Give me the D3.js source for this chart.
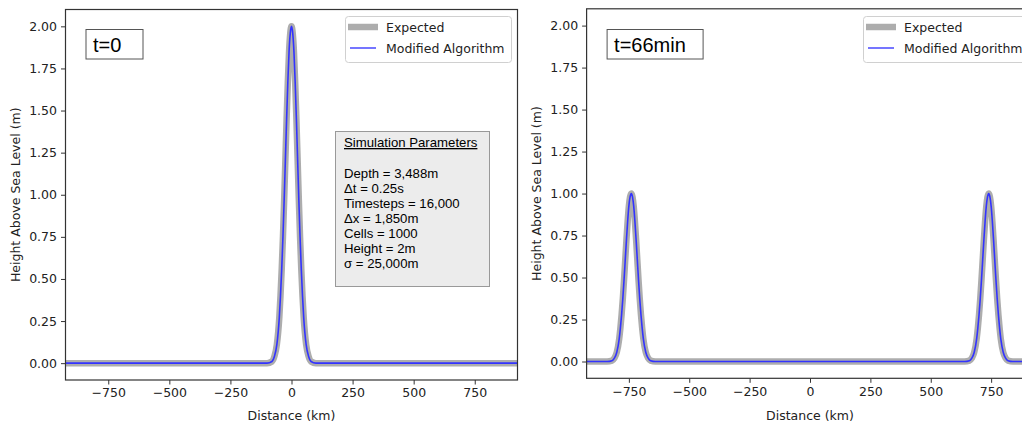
<!DOCTYPE html>
<html><head><meta charset="utf-8">
<script src="https://cdn.jsdelivr.net/npm/d3@7"></script>
<style>body{margin:0;background:#fff}svg{display:block}</style>
</head><body>
<svg id="c" width="1022" height="424"></svg>
<script>
// ---- data ----
const xTicks = [-750, -500, -250, 0, 250, 500, 750];
const yTicks = [0, 0.25, 0.5, 0.75, 1.0, 1.25, 1.5, 1.75, 2.0];
const xDomain = [-925, 925];
const yDomain = [-0.1, 2.1];

// t = 0 : single hump centred at 0 km
const distT0 = [-925, -100, -80, -70, -60, -50, -45, -40, -35, -30, -25, -20, -15, -10, -5, 0, 5, 10, 15, 20, 25, 30, 35, 40, 45, 50, 60, 70, 80, 100, 925];
const expectedT0 = [0, 0, 0.01, 0.04, 0.11, 0.27, 0.40, 0.56, 0.75, 0.97, 1.21, 1.45, 1.67, 1.85, 1.96, 2.0, 1.96, 1.85, 1.67, 1.45, 1.21, 0.97, 0.75, 0.56, 0.40, 0.27, 0.11, 0.04, 0.01, 0, 0];
const modifiedT0 = [0, 0, 0.01, 0.04, 0.11, 0.27, 0.40, 0.56, 0.75, 0.97, 1.21, 1.45, 1.67, 1.85, 1.96, 2.0, 1.96, 1.85, 1.67, 1.45, 1.21, 0.97, 0.75, 0.56, 0.40, 0.27, 0.11, 0.04, 0.01, 0, 0];

// t = 66 min : two humps travelling outwards
const distT66 = [-925, -840, -820, -810, -800, -790, -785, -780, -775, -770, -765, -760, -755, -750, -745, -740, -735, -730, -725, -720, -715, -710, -705, -700, -695, -690, -680, -670, -660, -640,
                 640, 660, 670, 680, 690, 695, 700, 705, 710, 715, 720, 725, 730, 735, 740, 745, 750, 755, 760, 765, 770, 775, 780, 785, 790, 800, 810, 820, 840, 925];
const expectedT66 = [0, 0, 0.005, 0.02, 0.055, 0.135, 0.20, 0.28, 0.375, 0.485, 0.605, 0.725, 0.835, 0.925, 0.98, 1.0, 0.98, 0.925, 0.835, 0.725, 0.605, 0.485, 0.375, 0.28, 0.20, 0.135, 0.055, 0.02, 0.005, 0,
                     0, 0.005, 0.02, 0.055, 0.135, 0.20, 0.28, 0.375, 0.485, 0.605, 0.725, 0.835, 0.925, 0.98, 1.0, 0.98, 0.925, 0.835, 0.725, 0.605, 0.485, 0.375, 0.28, 0.20, 0.135, 0.055, 0.02, 0.005, 0, 0];
const modifiedT66 = [0, 0, 0.005, 0.02, 0.055, 0.135, 0.20, 0.28, 0.375, 0.485, 0.605, 0.725, 0.835, 0.925, 0.98, 1.0, 0.98, 0.925, 0.835, 0.725, 0.605, 0.485, 0.375, 0.28, 0.20, 0.135, 0.055, 0.02, 0.005, 0,
                     0, 0.005, 0.02, 0.055, 0.135, 0.20, 0.28, 0.375, 0.485, 0.605, 0.725, 0.835, 0.925, 0.98, 1.0, 0.98, 0.925, 0.835, 0.725, 0.605, 0.485, 0.375, 0.28, 0.20, 0.135, 0.055, 0.02, 0.005, 0, 0];

const legendLabels = ["Expected", "Modified Algorithm"];
const paramTitle = "Simulation Parameters";
const paramLines = ["Depth = 3,488m", "\u0394t = 0.25s", "Timesteps = 16,000", "\u0394x = 1,850m", "Cells = 1000", "Height = 2m", "\u03c3 = 25,000m"];

// ---- styles ----
const GRAY = "#adadad", BLUE = "#3333ff", SPINE = "#333";
const TICKFONT = "DejaVu Sans, sans-serif";
const ARIAL = "Liberation Sans, Arial, sans-serif";
const svg = d3.select("#c");

function panel(o) {
  const x = d3.scaleLinear().domain(xDomain).range([o.left, o.right]);
  const y = d3.scaleLinear().domain(yDomain).range([o.bottom, o.top]);
  const g = svg.append("g");
  const clipId = "clip" + o.id;
  svg.append("clipPath").attr("id", clipId).append("rect")
    .attr("x", o.left).attr("y", o.top).attr("width", o.right - o.left).attr("height", o.bottom - o.top);

  const line = d3.line().x(d => x(d[0])).y(d => y(d[1])).curve(d3.curveMonotoneX);
  const plot = g.append("g").attr("clip-path", `url(#${clipId})`);
  plot.append("path").datum(o.dist.map((d, i) => [d, o.expected[i]]))
    .attr("d", line).attr("fill", "none").attr("stroke", GRAY).attr("stroke-width", 6.5)
    .attr("stroke-linejoin", "round").attr("stroke-linecap", "butt");
  plot.append("path").datum(o.dist.map((d, i) => [d, o.modified[i]]))
    .attr("d", line).attr("fill", "none").attr("stroke", BLUE).attr("stroke-width", 1.6)
    .attr("stroke-linejoin", "round");

  // axes
  const xa = g.append("g").attr("transform", `translate(0,${o.bottom})`)
    .call(d3.axisBottom(x).tickValues(xTicks).tickSize(4.5).tickPadding(4).tickFormat(d => d3.format("")(d).replace("-", "\u2212")));
  const ya = g.append("g").attr("transform", `translate(${o.left},0)`)
    .call(d3.axisLeft(y).tickValues(yTicks).tickSize(4.5).tickPadding(4).tickFormat(d3.format(".2f")));
  [xa, ya].forEach(a => {
    a.select(".domain").remove();
    a.selectAll("line").attr("stroke", SPINE).attr("stroke-width", 1);
    a.selectAll("text").attr("fill", "#222").style("font-family", TICKFONT).style("font-size", "12.5px");
  });
  // spines
  g.append("rect").attr("x", o.left).attr("y", o.top).attr("width", o.right - o.left).attr("height", o.bottom - o.top)
    .attr("fill", "none").attr("stroke", SPINE).attr("stroke-width", 1.2);

  g.append("text").attr("x", (o.left + o.right) / 2).attr("y", 420).attr("text-anchor", "middle")
    .style("font-family", TICKFONT).style("font-size", "12.5px").attr("fill", "#222").text("Distance (km)");
  g.append("text").attr("transform", `translate(${o.left - 46},${(o.top + o.bottom) / 2}) rotate(-90)`)
    .attr("text-anchor", "middle").style("font-family", TICKFONT).style("font-size", "12.5px").attr("fill", "#222")
    .text("Height Above Sea Level (m)");

  // time label box
  const tb = g.append("g");
  tb.append("rect").attr("x", o.left + 20.5).attr("y", 29.5).attr("width", o.tboxW).attr("height", 29.5)
    .attr("fill", "#fff").attr("stroke", "#555").attr("stroke-width", 1);
  tb.append("text").attr("x", o.left + 27.5).attr("y", 51.5).style("font-family", ARIAL)
    .style("font-size", "20px").attr("fill", "#000").text(o.tlabel);

  // legend
  const lg = g.append("g").attr("transform", `translate(${o.legX},16)`);
  lg.append("rect").attr("x", 0.5).attr("y", 0.5).attr("width", 166).attr("height", 46).attr("rx", 3)
    .attr("fill", "#fff").attr("fill-opacity", 0.8).attr("stroke", "#d0d0d0");
  lg.append("line").attr("x1", 3).attr("x2", 33).attr("y1", 11).attr("y2", 11).attr("stroke", GRAY).attr("stroke-width", 6.5);
  lg.append("line").attr("x1", 5).attr("x2", 31).attr("y1", 32).attr("y2", 32).attr("stroke", BLUE).attr("stroke-width", 1.6).attr("stroke-opacity", 0.85);
  legendLabels.forEach((t, i) => {
    lg.append("text").attr("x", 41).attr("y", 16 + i * 21).style("font-family", TICKFONT).style("font-size", "12.5px")
      .attr("fill", "#222").text(t);
  });
  return g;
}

panel({id: 0, left: 65.5, right: 517.5, top: 9.5, bottom: 380, dist: distT0, expected: expectedT0, modified: modifiedT0,
       tlabel: "t=0", tboxW: 57, legX: 345});
panel({id: 1, left: 586.6, right: 1033.4, top: 8.8, bottom: 378.3, dist: distT66, expected: expectedT66, modified: modifiedT66,
       tlabel: "t=66min", tboxW: 96, legX: 863});

// parameters box (left panel)
const pb = svg.append("g");
pb.append("rect").attr("x", 335.5).attr("y", 131.5).attr("width", 154).attr("height", 155)
  .attr("fill", "#ececec").attr("stroke", "#999").attr("stroke-width", 1);
pb.append("text").attr("x", 344).attr("y", 147).style("font-family", ARIAL)
  .style("font-size", "13.2px").attr("fill", "#000").attr("text-decoration", "underline").text(paramTitle);
paramLines.forEach((t, i) => {
  pb.append("text").attr("x", 344).attr("y", 177.5 + i * 15).style("font-family", ARIAL)
    .style("font-size", "13.2px").attr("fill", "#000").text(t);
});
</script>
</body></html>
